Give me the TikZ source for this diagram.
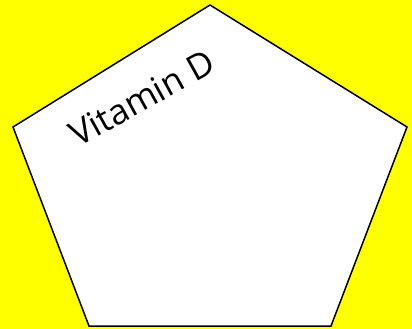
\documentclass[tikz,border=0pt]{standalone}
\usepackage{fontspec}
\newfontfamily\comicfont{Open Sans}
\definecolor{bgyellow}{RGB}{255,255,0}
\begin{document}
\begin{tikzpicture}[x=1pt,y=-1pt,
  pent/.style={draw=black,fill=white,line width=1.5pt,line join=miter},
  lbl/.style={font=\comicfont\fontsize{35}{40}\selectfont,text=black,inner sep=0pt}]
\fill[bgyellow] (0,0) rectangle (412,329);
\useasboundingbox (0,0) rectangle (412,329);
\coordinate (t) at (210,5);
\coordinate (r) at (407,127);
\coordinate (br) at (331,326);
\coordinate (bl) at (89,326);
\coordinate (l) at (13,127);
\draw[pent] (t) -- (r) -- (br) -- (bl) -- (l) -- cycle;
\node[lbl,rotate=29] (title) at (142,98) {Vitamin D};
\end{tikzpicture}
\end{document}
